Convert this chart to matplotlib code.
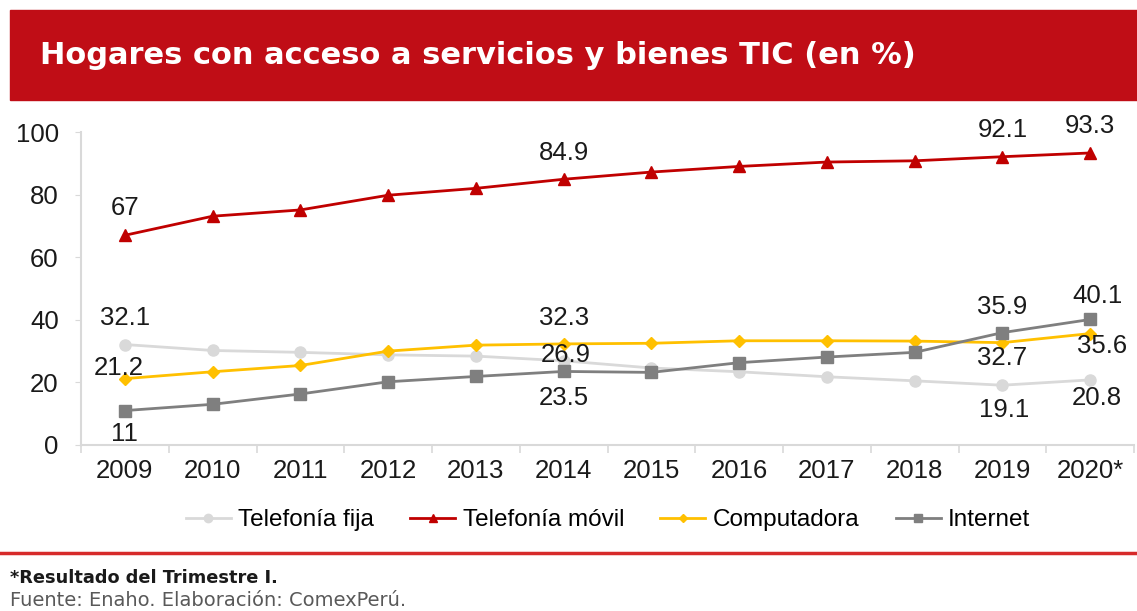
import matplotlib.pyplot as plt
from matplotlib.patches import Rectangle
from matplotlib.lines import Line2D
import numpy as np

plt.rcParams['font.family'] = ['Liberation Sans', 'DejaVu Sans']

# --- DATA ---
years = ["2009", "2010", "2011", "2012", "2013", "2014", "2015",
         "2016", "2017", "2018", "2019", "2020*"]
fija = [32.1, 30.2, 29.6, 28.8, 28.4, 26.9, 24.6, 23.4, 21.8, 20.5, 19.1, 20.8]
movil = [67.0, 73.1, 75.1, 79.8, 82.0, 84.9, 87.2, 89.0, 90.4, 90.8, 92.1, 93.3]
computadora = [21.2, 23.4, 25.4, 30.0, 31.9, 32.3, 32.5, 33.3, 33.3, 33.2, 32.7, 35.6]
internet = [11.0, 13.0, 16.3, 20.2, 21.9, 23.5, 23.2, 26.3, 28.1, 29.6, 35.9, 40.1]

# labelled points: (index, dx px, dy px)
labels_fija = [(0, 0, 27), (5, 2, 6), (10, 2, -25), (11, 7, -18)]
labels_movil = [(0, 0, 27), (5, 0, 26), (10, 0, 27), (11, 0, 27)]
labels_comp = [(0, -6, 11), (5, 0, 26), (10, 0, -15), (11, 12, -12)]
labels_int = [(0, 0, -23), (5, 0, -27), (10, 0, 26), (11, 7, 23)]

# --- STYLE ---
C_FIJA = "#d9d9d9"
C_MOVIL = "#c00000"
C_COMP = "#ffc000"
C_INT = "#7f7f7f"
C_HEADER = "#c00d16"
C_AXIS = "#d9d9d9"

fig = plt.figure(figsize=(11.37, 6.11), dpi=100)
W, H = 1137, 611

# header band
fig.patches.append(Rectangle((10 / W, 1 - 100 / H), 1 - 10 / W, 90 / H,
                             transform=fig.transFigure, color=C_HEADER, zorder=0))
fig.text(40 / W, 1 - 56 / H, "Hogares con acceso a servicios y bienes TIC (en %)",
         color="white", fontsize=22, fontweight="bold", va="center", ha="left",
         family="DejaVu Sans")

ax = fig.add_axes([81 / W, 1 - 445 / H, (1134 - 81) / W, (445 - 132) / H])
x = np.arange(len(years))

series = [
    (fija, C_FIJA, "o", 8, "Telefonía fija", labels_fija),
    (movil, C_MOVIL, "^", 8, "Telefonía móvil", labels_movil),
    (computadora, C_COMP, "D", 6, "Computadora", labels_comp),
    (internet, C_INT, "s", 8, "Internet", labels_int),
]

handles = []
for vals, col, mk, ms, name, labs in series:
    ax.plot(x, vals, color=col, marker=mk, markersize=ms, linewidth=2, zorder=3)
    handles.append(Line2D([0], [0], color=col, marker=mk, markersize=ms * 0.75,
                          linewidth=2, label=name))
    for i, dx, dy in labs:
        ax.annotate(f"{vals[i]:g}", (x[i], vals[i]), xytext=(dx, dy),
                    textcoords="offset pixels", ha="center", va="center",
                    fontsize=18.5, color="#1a1a1a", zorder=5)

ax.set_xlim(-0.5, len(years) - 0.5)
ax.set_ylim(0, 100)
ax.set_yticks([0, 20, 40, 60, 80, 100])
ax.set_xticks(x)
ax.set_xticklabels(years)
ax.set_xticks(np.arange(-0.5, len(years)), minor=True)
ax.tick_params(axis="x", which="major", length=0, labelsize=18.5, pad=10, labelcolor="#1a1a1a")
ax.tick_params(axis="x", which="minor", length=6, color=C_AXIS, width=1.2)
ax.tick_params(axis="y", length=4, color=C_AXIS, labelsize=18.5, pad=12, labelcolor="#1a1a1a")

for s in ["top", "right"]:
    ax.spines[s].set_visible(False)
for s in ["left", "bottom"]:
    ax.spines[s].set_color(C_AXIS)
    ax.spines[s].set_linewidth(1.5)

fig.legend(handles=handles, loc="center", bbox_to_anchor=(608 / W, 1 - 520 / H),
           ncol=4, frameon=False, fontsize=17.5, handlelength=1.85,
           columnspacing=1.5, handletextpad=0.3)

# bottom separator and notes
fig.add_artist(Line2D([0, 1], [1 - 553 / H, 1 - 553 / H], transform=fig.transFigure,
                      color="#d62a2a", linewidth=2.5))
fig.text(10 / W, 1 - 578 / H, "*Resultado del Trimestre I.", fontsize=12.8,
         fontweight="bold", color="#1a1a1a", va="center", family="DejaVu Sans")
fig.text(10 / W, 1 - 600 / H, "Fuente: Enaho. Elaboración: ComexPerú.", fontsize=14,
         color="#595959", va="center", family="DejaVu Sans")

fig.savefig("out.png", dpi=100)
